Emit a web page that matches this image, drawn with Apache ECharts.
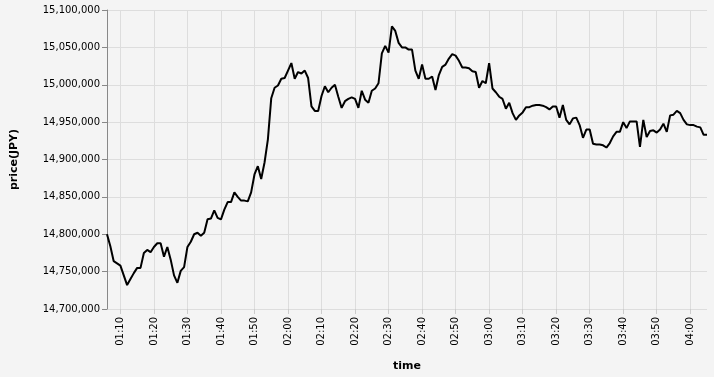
<!DOCTYPE html>
<html>
<head>
<meta charset="utf-8">
<script src="https://cdn.jsdelivr.net/npm/echarts@6/dist/echarts.min.js"></script>
<style>
html,body{margin:0;padding:0;background:#f4f4f4;}
#c{width:714px;height:377px;}
</style>
</head>
<body>
<div id="c"></div>
<script>
const times = [
"01:06","01:07","01:08","01:09","01:10","01:11","01:12","01:13","01:14","01:15","01:16","01:17","01:18","01:19","01:20","01:21","01:22","01:23","01:24","01:25","01:26","01:27","01:28","01:29","01:30","01:31","01:32","01:33","01:34","01:35","01:36","01:37","01:38","01:39","01:40","01:41","01:42","01:43","01:44","01:45","01:46","01:47","01:48","01:49","01:50","01:51","01:52","01:53","01:54","01:55","01:56","01:57","01:58","01:59",
"02:00","02:01","02:02","02:03","02:04","02:05","02:06","02:07","02:08","02:09","02:10","02:11","02:12","02:13","02:14","02:15","02:16","02:17","02:18","02:19","02:20","02:21","02:22","02:23","02:24","02:25","02:26","02:27","02:28","02:29","02:30","02:31","02:32","02:33","02:34","02:35","02:36","02:37","02:38","02:39","02:40","02:41","02:42","02:43","02:44","02:45","02:46","02:47","02:48","02:49","02:50","02:51","02:52","02:53","02:54","02:55","02:56","02:57","02:58","02:59",
"03:00","03:01","03:02","03:03","03:04","03:05","03:06","03:07","03:08","03:09","03:10","03:11","03:12","03:13","03:14","03:15","03:16","03:17","03:18","03:19","03:20","03:21","03:22","03:23","03:24","03:25","03:26","03:27","03:28","03:29","03:30","03:31","03:32","03:33","03:34","03:35","03:36","03:37","03:38","03:39","03:40","03:41","03:42","03:43","03:44","03:45","03:46","03:47","03:48","03:49","03:50","03:51","03:52","03:53","03:54","03:55","03:56","03:57","03:58","03:59",
"04:00","04:01","04:02","04:03","04:04","04:05"
];
const prices = [
14800000,14784000,14764000,14761000,14758000,14745000,14732000,14740000,14748000,14755000,14755000,14775000,14779000,14776000,14783000,14788000,14788000,14770000,14783000,14766000,14745000,14735000,14751000,14756000,14783000,14790000,14800000,14802000,14798000,14802000,14820000,14821000,14832000,14822000,14820000,14833000,14843000,14843000,14856000,14850000,14845000,14845000,14844000,14856000,14880000,14891000,14874000,14896000,14927000,14982000,14996000,14999000,15008000,15009000,
15019000,15029000,15008000,15017000,15015000,15019000,15009000,14971000,14965000,14965000,14985000,14998000,14990000,14996000,15000000,14984000,14969000,14978000,14981000,14983000,14981000,14969000,14992000,14980000,14976000,14992000,14995000,15002000,15042000,15052000,15043000,15078000,15072000,15056000,15050000,15050000,15047000,15047000,15019000,15008000,15027000,15008000,15008000,15011000,14993000,15013000,15024000,15027000,15035000,15041000,15039000,15032000,15023000,15023000,15022000,15018000,15017000,14996000,15005000,15002000,
15029000,14995000,14990000,14984000,14981000,14968000,14976000,14962000,14953000,14959000,14963000,14970000,14970000,14972000,14973000,14973000,14972000,14970000,14967000,14971000,14971000,14956000,14973000,14953000,14947000,14955000,14956000,14946000,14929000,14940000,14940000,14921000,14920000,14920000,14919000,14916000,14922000,14931000,14937000,14937000,14950000,14942000,14951000,14951000,14951000,14917000,14953000,14930000,14938000,14939000,14936000,14940000,14948000,14937000,14959000,14960000,14965000,14962000,14953000,14947000,
14946000,14946000,14944000,14943000,14933000,14933000
];
const tickLabels = ["01:10","01:20","01:30","01:40","01:50","02:00","02:10","02:20","02:30","02:40","02:50","03:00","03:10","03:20","03:30","03:40","03:50","04:00"];
const yTicks = [14700000,14750000,14800000,14850000,14900000,14950000,15000000,15050000,15100000];

function toMin(s){const p=s.split(':');return (+p[0])*60+(+p[1]);}
function fmtMin(m){const h=Math.floor(m/60),mm=Math.round(m-h*60);return String(h).padStart(2,'0')+':'+String(mm).padStart(2,'0');}
const data = times.map((t,i)=>[toMin(t),prices[i]]);
const tickVals = tickLabels.map(toMin);

const chart = echarts.init(document.getElementById('c'), null, {renderer:'canvas'});
const FONT = 'DejaVu Sans';
chart.setOption({
  backgroundColor:'#f4f4f4',
  animation:false,
  grid:{left:107,right:7,top:10,bottom:67,containLabel:false},
  xAxis:{
    type:'value',
    min:toMin(times[0]),
    max:toMin(times[times.length-1]),
    name:'time',
    nameLocation:'middle',
    nameGap:52,
    nameTextStyle:{fontFamily:FONT,fontSize:11,fontWeight:'bold',color:'#000'},
    axisLine:{show:false},
    axisTick:{show:true,length:5,lineStyle:{color:'#ccc'},customValues:tickVals},
    axisLabel:{rotate:90,margin:8,fontFamily:FONT,fontSize:10,color:'#000',customValues:tickVals,formatter:v=>fmtMin(v)},
    splitLine:{show:true,lineStyle:{color:'#ddd',width:1}}
  },
  yAxis:{
    type:'value',
    min:yTicks[0],
    max:yTicks[yTicks.length-1],
    interval:50000,
    name:'price(JPY)',
    nameLocation:'middle',
    nameGap:87,
    nameTextStyle:{fontFamily:FONT,fontSize:11,fontWeight:'bold',color:'#000'},
    axisLine:{show:true,lineStyle:{color:'#888'}},
    axisTick:{show:true,length:5,lineStyle:{color:'#888'}},
    axisLabel:{margin:7,fontFamily:FONT,fontSize:10,color:'#000',formatter:v=>v.toLocaleString('en-US')},
    splitLine:{show:true,lineStyle:{color:'#ddd',width:1}}
  },
  series:[{
    type:'line',
    data:data,
    showSymbol:false,
    symbol:'none',
    lineStyle:{color:'#000',width:2},
    itemStyle:{color:'#000'}
  }]
});
</script>
</body>
</html>
